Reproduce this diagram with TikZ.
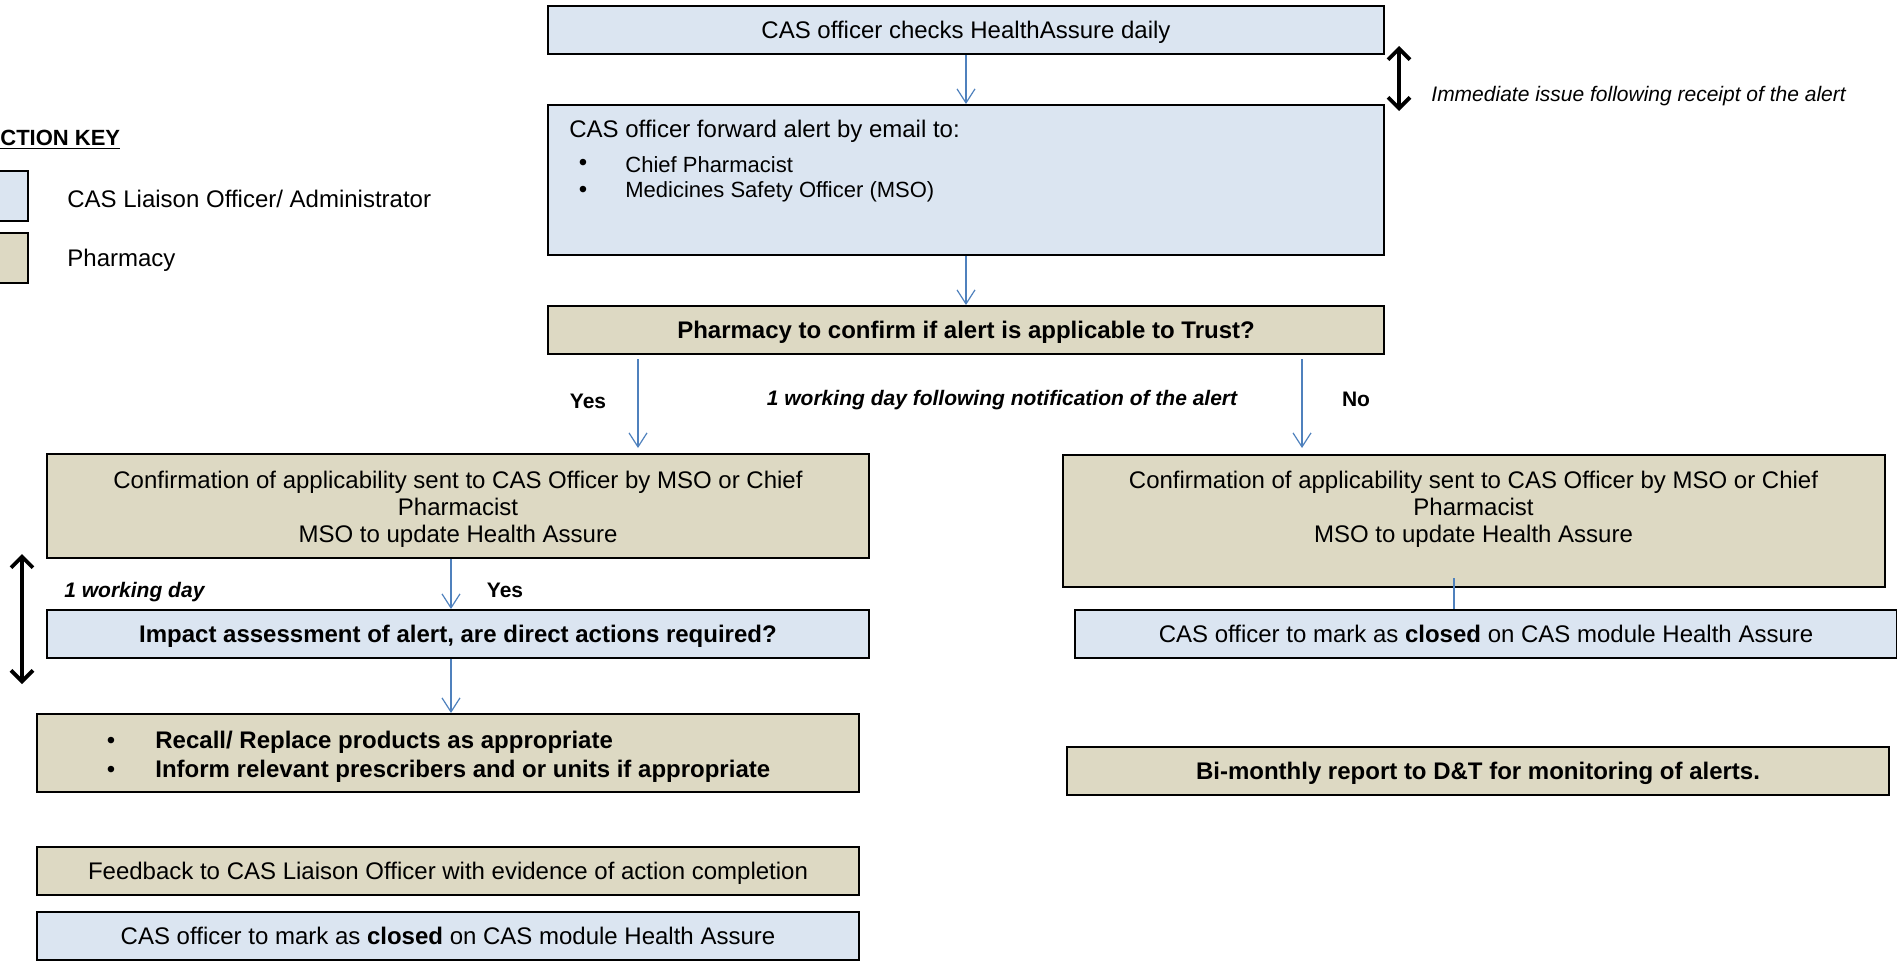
\documentclass[tikz,border=0pt]{standalone}
\usepackage{fontspec}
\setmainfont{Liberation Sans}
\usepgflibrary{arrows.meta}
\definecolor{casblue}{HTML}{DBE5F1}
\definecolor{pharmtan}{HTML}{DDD9C3}
\definecolor{flowblue}{HTML}{4F81BD}

\begin{document}
\begin{tikzpicture}[x=0.5pt,y=-0.5pt,inner sep=0pt,font=\fontsize{12}{13.6}\selectfont,
		box/.style={draw,line width=1pt,minimum width=411pt,minimum height=24pt,text depth=0pt,align=center},
		casbox/.style={box,fill=casblue},
		pharmbox/.style={box,fill=pharmtan},
		bold/.style={font=\fontsize{12}{13.6}\selectfont\bfseries},
		flow/.style={flowblue,line width=0.6pt,-{Straight Barb[length=7pt,width=9pt]}},
		span/.style={line width=1.9pt,{Straight Barb[length=5.5pt,width=11pt]}-{Straight Barb[length=5.5pt,width=11pt]}},
		note/.style={font=\fontsize{10.5}{12}\selectfont\bfseries\itshape}]
		\useasboundingbox (0,0) rectangle (1897,960);
		\node [anchor=west,font=\fontsize{11}{13}\selectfont\bfseries] (keytitle) at (0,140) {\underline{CTION KEY}};
		\draw [line width=1pt,fill=casblue] (-6,171) rectangle (28,221);
		\draw [line width=1pt,fill=pharmtan] (-6,233) rectangle (28,283);
		\node [anchor=west] (keycas) at (67,199) {CAS Liaison Officer/ Administrator};
		\node [anchor=west] (keypharm) at (67,260) {Pharmacy};
		\node [casbox,minimum width=418pt] (check) at (966,30) {CAS officer checks HealthAssure daily};
		\node [casbox,minimum width=418pt,minimum height=75pt] (forward) at (966,180) {};
		\node [anchor=west] (fwdtitle) at (569,131.5) {CAS officer forward alert by email to:};
		\node (fwddot1) at (583,165) {\textbullet};
		\node [anchor=west,font=\fontsize{11}{13}\selectfont] (fwdchief) at (625,165) {Chief Pharmacist};
		\node (fwddot2) at (583,192) {\textbullet};
		\node [anchor=west,font=\fontsize{11}{13}\selectfont] (fwdmso) at (625,192) {Medicines Safety Officer (MSO)};
		\node [pharmbox,bold,minimum width=418pt] (confirm) at (966,330) {Pharmacy to confirm if alert is applicable to Trust?};
		\node [pharmbox,minimum height=52pt] (confyes) at (458,506) {};
		\node [align=center] (confyestxt) at (458,509) {Confirmation of applicability sent to CAS Officer by MSO or Chief\\Pharmacist\\MSO to update Health Assure};
		\node [pharmbox,minimum height=66pt] (confno) at (1473.5,521) {};
		\node [align=center] (confnotxt) at (1473.5,509.5) {Confirmation of applicability sent to CAS Officer by MSO or Chief\\Pharmacist\\MSO to update Health Assure};
		\node [casbox,bold] (impact) at (458,634) {Impact assessment of alert, are direct actions required?};
		\node [pharmbox,minimum height=39pt] (recall) at (448,753) {};
		\node (recdot1) at (111,742.5) {\textbullet};
		\node [anchor=west,bold] (recreplace) at (155,742.5) {Recall/ Replace products as appropriate};
		\node (recdot2) at (111,771.5) {\textbullet};
		\node [anchor=west,bold] (recinform) at (155,771.5) {Inform relevant prescribers and or units if appropriate};
		\node [pharmbox] (feedback) at (448,871) {Feedback to CAS Liaison Officer with evidence of action completion};
		\node [casbox] (closedyes) at (448,936) {CAS officer to mark as \textbf{closed} on CAS module Health Assure};
		\node [casbox] (closedno) at (1486,634) {CAS officer to mark as \textbf{closed} on CAS module Health Assure};
		\node [pharmbox,bold] (report) at (1478,770.5) {Bi-monthly report to D\&T for monitoring of alerts.};
		\coordinate (yestop) at (638,359);
		\coordinate (yesend) at (638,448);
		\coordinate (notop) at (1302,359);
		\coordinate (noend) at (1302,448);
		\coordinate (immtop) at (1399,46);
		\coordinate (immend) at (1399,111);
		\coordinate (daytop) at (22,554);
		\coordinate (dayend) at (22,684);
		\draw [flow] (check) -- (forward);
		\draw [flow] (forward) -- (confirm);
		\draw [flow] (yestop) -- (yesend);
		\draw [flow] (notop) -- (noend);
		\draw [flow] ([xshift=-3.5pt]confyes.south) -- ([xshift=-3.5pt]impact.north);
		\draw [flow] ([xshift=-3.5pt]impact.south) -- ([xshift=1.5pt]recall.north);
		\draw [flowblue,line width=0.6pt] ([xshift=-9.75pt,yshift=5pt]confno.south) -- ([xshift=-16pt]closedno.north);
		\draw [span] (immtop) -- (immend);
		\draw [span] (daytop) -- (dayend);
		\node [anchor=west,font=\fontsize{10.5}{12}\selectfont\itshape] (immtxt) at (1431,96.5) {Immediate issue following receipt of the alert};
		\node [note] (onedaynote) at (1002,400.5) {1 working day following notification of the alert};
		\node [font=\fontsize{10.5}{12}\selectfont\bfseries] (yeslbl) at (588,401.5) {Yes};
		\node [font=\fontsize{10.5}{12}\selectfont\bfseries] (nolbl) at (1356,399.5) {No};
		\node [note,anchor=west] (daynote) at (64,592.5) {1 working day};
		\node [font=\fontsize{10.5}{12}\selectfont\bfseries] (yeslbl2) at (505,590.5) {Yes};
	\end{tikzpicture}
\end{document}
